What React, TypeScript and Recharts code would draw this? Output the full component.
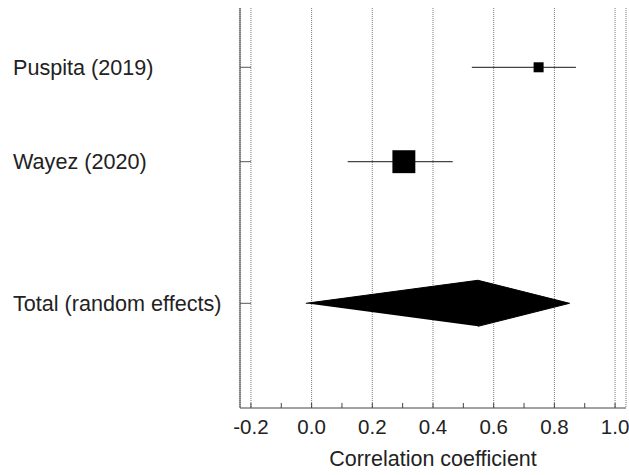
import React from "react"
import { ScatterChart, Scatter, XAxis, YAxis, CartesianGrid, ErrorBar } from "recharts"

const studies = ["Puspita (2019)", "Wayez (2020)"]
const estimates = [0.748, 0.304]
const lowerCI = [0.528, 0.119]
const upperCI = [0.871, 0.465]
const weights = [16, 84]
const rowPositions = [0, 1]

const totalLabel = "Total (random effects)"
const totalRow = 2.5
const totalEstimate = 0.548
const totalLower = -0.019
const totalUpper = 0.85

const xTicks = [-0.2, 0, 0.2, 0.4, 0.6, 0.8, 1.0]
const minorTicks = [-0.2, -0.1, 0, 0.1, 0.2, 0.3, 0.4, 0.5, 0.6, 0.7, 0.8, 0.9, 1.0]
const xDomain = [-0.236, 1.036]
const yDomain = [-0.628, 3.609]

const font = "'Liberation Sans', Arial, sans-serif"
const diamondHalf = 0.244

const rowLabels: Record<number, string> = {}
studies.forEach((s, i) => (rowLabels[rowPositions[i]] = s))
rowLabels[totalRow] = totalLabel

const studyData = studies.map((name, i) => ({
  name,
  x: estimates[i],
  y: rowPositions[i],
  err: [estimates[i] - lowerCI[i], upperCI[i] - estimates[i]],
  side: 2.5 * Math.sqrt(weights[i]),
}))

const diamondData = [
  { x: totalLower, y: totalRow },
  { x: totalEstimate, y: totalRow - diamondHalf },
  { x: totalUpper, y: totalRow },
  { x: totalEstimate, y: totalRow + diamondHalf },
]

function RowTick({ x, y, payload }: any) {
  return (
    <g>
      <line x1={x} x2={x + 11} y1={y} y2={y} stroke="#555" strokeWidth={1} />
      <text x={13} y={y} dy="0.36em" textAnchor="start" fontSize={21.6} fontFamily={font} fill="#222">
        {rowLabels[payload.value]}
      </text>
    </g>
  )
}

function Square({ cx, cy, payload }: any) {
  const s = payload.side
  return <rect x={cx - s / 2} y={cy - s / 2} width={s} height={s} fill="#000" />
}

export default function App() {
  return (
    <div style={{ position: "absolute", left: 0, top: 0, background: "#fff" }}>
      <ScatterChart width={629} height={475} margin={{ top: 8, right: 3, bottom: 0, left: 0 }}>
        <CartesianGrid horizontal={false} stroke="#777" strokeDasharray="1 1" />
        <XAxis
          type="number"
          dataKey="x"
          domain={xDomain}
          ticks={xTicks}
          allowDataOverflow
          height={67}
          tickLine={false}
          tickSize={0}
          tickMargin={11}
          axisLine={{ stroke: "#444" }}
          tick={{ fontSize: 20.5, fontFamily: font, fill: "#222" }}
          tickFormatter={(v: number) => v.toFixed(1)}
          label={{
            value: "Correlation coefficient",
            position: "insideBottom",
            offset: 9,
            fontSize: 21.5,
            fontFamily: font,
            fill: "#222",
          }}
        />
        <XAxis
          xAxisId="minor"
          type="number"
          dataKey="x"
          domain={xDomain}
          ticks={minorTicks}
          allowDataOverflow
          mirror
          axisLine={false}
          tickSize={5}
          tickLine={{ stroke: "#444" }}
          tick={() => <g />}
        />
        <YAxis
          type="number"
          dataKey="y"
          domain={yDomain}
          ticks={[...rowPositions, totalRow]}
          reversed
          allowDataOverflow
          width={240}
          tickSize={0}
          tickMargin={0}
          tickLine={false}
          axisLine={{ stroke: "#444" }}
          tick={<RowTick />}
        />
        <Scatter data={studyData} shape={<Square />} isAnimationActive={false}>
          <ErrorBar dataKey="err" direction="x" width={0} stroke="#444" strokeWidth={1.3} />
        </Scatter>
        <Scatter
          data={diamondData}
          line={{ stroke: "#000", fill: "#000", strokeWidth: 1 }}
          shape={() => <g />}
          isAnimationActive={false}
        />
      </ScatterChart>
    </div>
  )
}
